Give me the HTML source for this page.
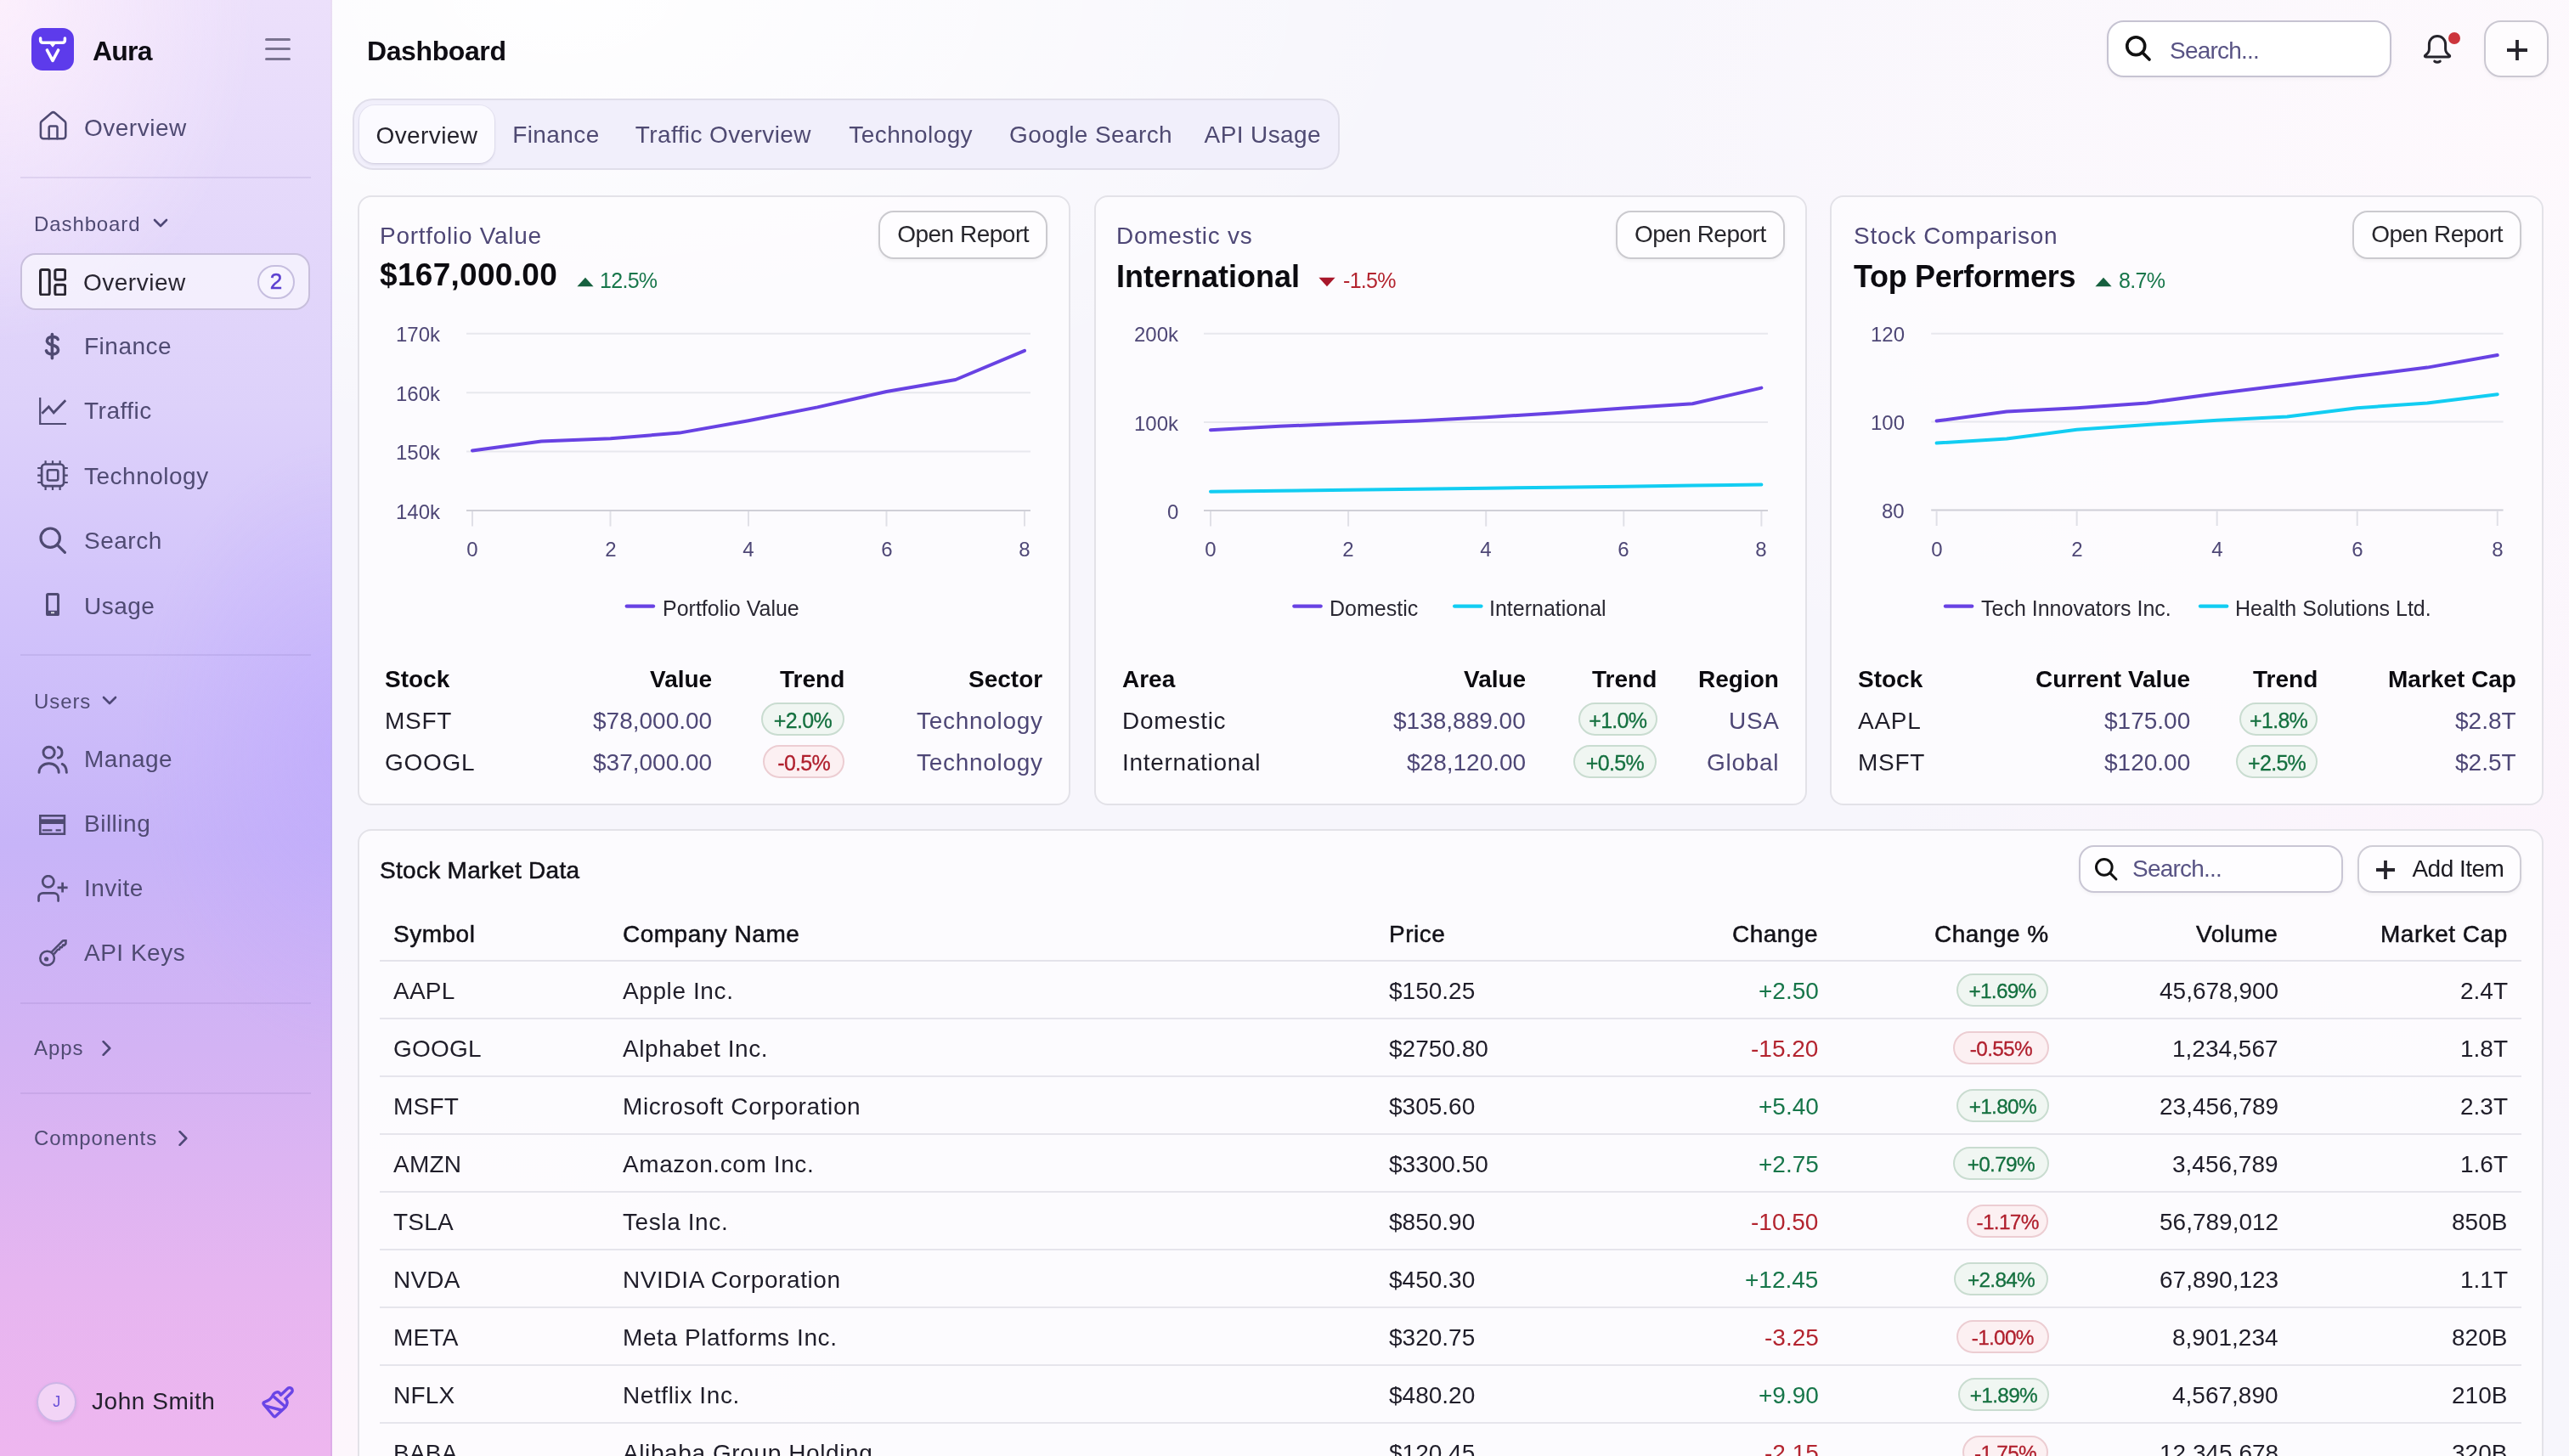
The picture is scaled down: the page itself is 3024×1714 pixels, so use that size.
<!DOCTYPE html>
<html><head><meta charset="utf-8">
<style>
*{box-sizing:border-box;margin:0;padding:0}
html,body{width:1512px;height:857px;overflow:hidden}
body>*{will-change:transform}
@media (min-width:2200px){html{zoom:2}}
body{font-family:"Liberation Sans",sans-serif;color:#1c1b22;position:relative;
 background:
 radial-gradient(ellipse 520px 260px at 330px 0px, rgba(255,255,255,0.95), rgba(255,255,255,0) 100%),
 radial-gradient(ellipse 620px 420px at 1480px 80px, rgba(254,249,253,0.97), rgba(254,249,253,0) 100%),
 radial-gradient(ellipse 380px 320px at 1470px 470px, rgba(253,244,252,0.85), rgba(253,244,252,0) 100%),
 radial-gradient(ellipse 420px 320px at 230px 857px, rgba(254,246,252,0.9), rgba(254,246,252,0) 100%),
 #f7f6fc;}
.abs{position:absolute}
/* sidebar */
#sb{position:absolute;left:0;top:0;width:195.5px;height:857px;border-right:1px solid rgba(130,110,190,0.14);
 background:
  radial-gradient(ellipse 150px 200px at 0px 0px, rgba(255,242,253,0.85), rgba(255,242,253,0) 100%),
  radial-gradient(ellipse 120px 180px at 200px 440px, rgba(185,162,255,0.45), rgba(185,162,255,0) 100%),
  linear-gradient(180deg,#ece0fb 0%,#ddd1fa 28%,#cfc0fa 45%,#c7b4f8 58%,#d3b3f4 72%,#e6b5f0 88%,#eeb6ef 100%);}
.logo{left:18.45px;top:16.45px;width:25px;height:25px;border-radius:6.5px;background:#5d3beb}
.brand{left:54.5px;top:20.2px;font-size:16px;font-weight:bold;color:#0f0d14;line-height:20px;letter-spacing:-0.4px}
.ham{left:156px;top:22px;width:15px;height:14px}
.ham i{position:absolute;left:0;width:15px;height:1.5px;border-radius:1px;background:#7a7390}
.nav{position:absolute;left:12.5px;width:169.5px;height:32px;display:flex;align-items:center;font-size:14px;color:#4f4a72}
.nav .ic{position:absolute;left:10px;top:7px;width:18px;height:18px}
.nav .tx{position:absolute;left:37px;top:0;line-height:32px;letter-spacing:0.25px}
.nav.active{left:12px;width:170.5px;height:33.7px;background:rgba(250,248,254,0.72);border:1px solid #c8bfdc;border-radius:9px;color:#292631}
.nav.active .tx{left:36px;line-height:33.2px}
.badge2{position:absolute;left:138.3px;top:6px;width:22.4px;height:19.8px;border-radius:10px;border:1px solid #c6bedf;background:rgba(255,255,255,0.35);-webkit-text-stroke:0.25px #5b3fd0;
 color:#5b3fd0;font-size:13px;line-height:17.8px;text-align:center}
.divider{position:absolute;left:12px;width:171px;height:1px;background:rgba(110,90,160,0.13)}
.sect{position:absolute;left:20px;font-size:12px;color:#4f4a72;line-height:16px;letter-spacing:0.45px}
.sect svg{position:absolute;top:5.5px}
/* main */
.title{left:216px;top:20.2px;font-size:16px;font-weight:bold;line-height:20px;color:#0f0d14;letter-spacing:-0.2px}
.search{left:1240px;top:12px;width:167.5px;height:33.5px;border:1px solid #c6c3d2;border-radius:10px;background:#fff;box-shadow:0 1px 2px rgba(0,0,0,0.04)}
.search .ph{position:absolute;left:36px;top:1.2px;line-height:31.5px;font-size:14px;color:#585384;letter-spacing:-0.4px}
.plusbtn{left:1462px;top:12px;width:38px;height:33.5px;border:1px solid #cbc8d2;border-radius:10px;background:#fefcfe;box-shadow:0 1px 2px rgba(0,0,0,0.04)}
.tabs{left:207.6px;top:58px;width:581px;height:42px;border:1px solid #e0deea;border-radius:12px;background:#f1effb}
.tab{position:absolute;top:3px;height:34.5px;line-height:34.5px;font-size:14px;color:#4f4a72;text-align:center;letter-spacing:0.2px}
.tab.on{background:#fbfaff;border-radius:9px;color:#25232d;height:33.8px;line-height:35.6px;box-shadow:0 1px 1.5px rgba(40,30,80,0.10),0 0 0 0.5px rgba(40,30,80,0.05)}
.card{position:absolute;top:115px;height:359px;border:1px solid #e3e2e8;border-radius:8px;background:rgba(253,252,254,0.85)}

.avatar{left:21.5px;top:813.5px;width:23.7px;height:23.7px;border-radius:50%;border:1px solid #cdb5e6;background:rgba(248,236,252,0.55);color:#6a4fd8;font-size:9px;line-height:21.7px;text-align:center;box-shadow:0 1px 2px rgba(80,40,120,0.12)}
.uname{left:54px;top:817px;font-size:14px;line-height:16px;color:#24212e;letter-spacing:0.27px}

.t{position:absolute;white-space:nowrap}
.obtn{position:absolute;height:28.3px;border:1px solid #cbcacf;border-radius:9px;background:#fefdff;font-size:14px;line-height:26.3px;text-align:center;color:#27262c;box-shadow:0 1px 2px rgba(0,0,0,0.05);letter-spacing:-0.25px}
.bdg{position:absolute;border-radius:10px;text-align:center;white-space:nowrap;letter-spacing:-0.35px;-webkit-text-stroke:0.15px currentColor}
.bg{background:#f0f6f2;border:1px solid #c9dcd0;color:#14703f}
.br{background:#fcf0f2;border:1px solid #eccdd2;color:#b01f2d}

.sbox{left:1223.3px;top:497.3px;width:155.3px;height:28.2px;border:1px solid #c9c6d4;border-radius:9px;background:#fefdff;box-shadow:0 1px 2px rgba(0,0,0,0.04)}
.ph2{position:absolute;left:30.5px;top:0;line-height:26.2px;font-size:14px;color:#585384;letter-spacing:-0.4px}
.addbtn{left:1387.3px;top:497.3px;width:96.7px;height:28.2px;border:1px solid #cfcdd6;border-radius:9px;background:#fefdff;box-shadow:0 1px 2px rgba(0,0,0,0.05)}
</style></head>
<body>
<div id="sb">
<div class="abs logo"><svg style="position:absolute;left:0;top:0;width:25px;height:25px" viewBox="0 0 25 25"><path d="M5.3 6.0V7.1Q5.3 8.6 6.8 8.6H18.2Q19.7 8.6 19.7 7.1V6.0" stroke="#fff" stroke-width="1.75" fill="none" stroke-linecap="round" stroke-linejoin="round"/><path d="M10.9 8.8L12.5 10.8L14.1 8.8Z" fill="#fff" stroke="#fff" stroke-width="0.8" stroke-linejoin="round"/><path d="M9.2 13.0L12.5 19.2L15.8 13.0" stroke="#fff" stroke-width="1.8" fill="none" stroke-linejoin="round" stroke-linecap="round"/></svg></div>
<div class="abs brand">Aura</div>
<div class="abs ham"><i style="top:0.4px"></i><i style="top:6.2px"></i><i style="top:12px"></i></div>
<div class="nav" style="top:59.5px"><svg style="position:absolute;left:8.80px;top:5.10px;width:19.6px;height:19.6px" viewBox="0 0 24 24" fill="none" stroke="currentColor" stroke-width="1.55" stroke-linecap="round" stroke-linejoin="round" ><path d="M15 21v-8a1 1 0 0 0-1-1h-4a1 1 0 0 0-1 1v8"/><path d="M3 10a2 2 0 0 1 .709-1.528l7-5.999a2 2 0 0 1 2.582 0l7 5.999A2 2 0 0 1 21 10v9a2 2 0 0 1-2 2H5a2 2 0 0 1-2-2z"/></svg><span class="tx">Overview</span></div>
<div class="divider" style="top:104.2px"></div>
<div class="sect" style="top:124px">Dashboard<svg style="left:70px;top:4.7px;width:9px;height:6px" viewBox="0 0 9 6" fill="none" stroke="#4e4776" stroke-width="1.3" stroke-linecap="round" stroke-linejoin="round"><path d="M1 1l3.5 3.5L8 1"/></svg></div>
<div class="nav active" style="top:149px"><svg style="position:absolute;left:9.8px;top:7.8px;width:16.2px;height:16.2px" viewBox="0 0 16 16" fill="none" stroke="currentColor" stroke-width="1.5" stroke-linecap="round" stroke-linejoin="round" ><rect x="0.75" y="0.75" width="5.3" height="14.6" rx="1"/><rect x="9.3" y="0.75" width="5.9" height="5.8" rx="1"/><rect x="9.3" y="9.55" width="5.9" height="5.8" rx="1"/></svg><span class="tx">Overview</span><span class="badge2">2</span></div>
<div class="nav" style="top:188px"><svg style="position:absolute;left:13.6px;top:7.6px;width:9.4px;height:16.6px" viewBox="0 0 10 17" fill="none" stroke="currentColor" stroke-width="1.9" stroke-linecap="round"><path d="M5 1v15"/><path d="M8.6 4.2C8.2 3.1 7 2.6 5.2 2.6 3.2 2.6 1.8 3.5 1.8 5.1c0 1.7 1.5 2.2 3.4 2.7 2 .5 3.6 1.1 3.6 3 0 1.7-1.5 2.7-3.7 2.7-2 0-3.4-.8-3.8-2.2"/></svg><span class="tx">Finance</span></div>
<div class="nav" style="top:226.2px"><svg style="position:absolute;left:10.7px;top:7.8px;width:16.5px;height:16.3px" viewBox="0 0 16.5 16.3" fill="none" stroke="currentColor" stroke-linecap="butt" stroke-linejoin="miter"><path d="M0.6 0V15.5H16" stroke-width="1.1"/><path d="M1.7 9.4L5.7 5.4L8.6 8.9L15.6 1.6" stroke-width="1.4"/></svg><span class="tx">Traffic</span></div>
<div class="nav" style="top:264.4px"><svg style="position:absolute;left:9.4px;top:6.6px;width:18px;height:18px" viewBox="0 0 18 18" fill="none" stroke="currentColor" stroke-linecap="butt" stroke-linejoin="round"><rect x="2.55" y="2.25" width="13" height="12.8" rx="2" stroke-width="1.35"/><rect x="5.95" y="5.65" width="6.2" height="6.1" rx="1" stroke-width="1.3"/><path d="M4.8 0.1v2.1M9 0.1v2.1M13.3 0.1v2.1M4.8 15.1v2.4M9 15.1v2.4M13.3 15.1v2.4M0.1 4.5h2.4M0.1 8.8h2.4M0.1 13h2.4M15.5 4.5h2.4M15.5 8.8h2.4M15.5 13h2.4" stroke-width="1.1"/></svg><span class="tx">Technology</span></div>
<div class="nav" style="top:302.6px"><svg style="position:absolute;left:10.70px;top:7.40px;width:16px;height:16px" viewBox="0 0 16 16" fill="none" stroke="currentColor" stroke-width="1.6" stroke-linecap="round" stroke-linejoin="round" ><circle cx="6.6" cy="6.6" r="5.6"/><path d="M10.7 10.7L15.2 15.2"/></svg><span class="tx">Search</span></div>
<div class="nav" style="top:340.8px"><svg style="position:absolute;left:14.50px;top:8.20px;width:8px;height:13.6px" viewBox="0 0 8 13.6" fill="none" stroke="currentColor" stroke-width="1.5" stroke-linecap="round" stroke-linejoin="round" ><rect x="0.75" y="0.75" width="6.5" height="12.2" rx="0.6" fill="none"/><rect x="0.75" y="10.4" width="6.5" height="2.5" fill="currentColor" stroke="none"/><rect x="3" y="11.2" width="2" height="0.9" fill="#fff" stroke="none" opacity="0.85"/></svg><span class="tx">Usage</span></div>
<div class="divider" style="top:385px"></div>
<div class="sect" style="top:405px">Users<svg style="left:40px;top:4.4px;width:9px;height:6px" viewBox="0 0 9 6" fill="none" stroke="#4e4776" stroke-width="1.3" stroke-linecap="round" stroke-linejoin="round"><path d="M1 1l3.5 3.5L8 1"/></svg></div>
<div class="nav" style="top:431px"><svg style="position:absolute;left:9.50px;top:7.70px;width:18.2px;height:17.2px" viewBox="0 0 18.2 17.2" fill="none" stroke="currentColor" stroke-width="1.45" stroke-linecap="round" stroke-linejoin="round" ><circle cx="6.8" cy="4.4" r="3.3"/><path d="M1 16.2c0-3.2 2.6-5.3 5.8-5.3s5.8 2.1 5.8 5.3"/><path d="M12.2 1.3a3.3 3.3 0 0 1 0 6.3"/><path d="M14.6 11.2c1.6.8 2.6 2.6 2.6 5"/></svg><span class="tx">Manage</span></div>
<div class="nav" style="top:469.2px"><svg style="position:absolute;left:10.7px;top:10.2px;width:16.5px;height:12px" viewBox="0 0 16.5 12" fill="none" stroke="currentColor" stroke-width="1.3" stroke-linecap="butt" stroke-linejoin="miter"><rect x="0.65" y="0.65" width="14.3" height="10.7"/><rect x="0.65" y="2.65" width="14.3" height="2.85" fill="currentColor" stroke="none"/><path d="M1.9 9.2h5.8M9.8 9.2h3.1" stroke-width="1.1"/></svg><span class="tx">Billing</span></div>
<div class="nav" style="top:507px"><svg style="position:absolute;left:9.5px;top:7.8px;width:18.4px;height:16.6px" viewBox="0 0 18.4 16.6" fill="none" stroke="currentColor" stroke-width="1.35" stroke-linecap="round" stroke-linejoin="round"><circle cx="6.4" cy="3.9" r="3.3"/><path d="M0.75 15.3V13.2C0.75 11.8 1.9 10.7 3.3 10.7H9.7C11.1 10.7 12.3 11.8 12.3 13.2V15.3"/><path d="M11.8 7.4H17.8M14.8 4.4V10.3" stroke-linecap="butt"/></svg><span class="tx">Invite</span></div>
<div class="nav" style="top:545.1px"><svg style="position:absolute;left:10.7px;top:7.9px;width:16.5px;height:16.5px" viewBox="0 0 16.5 16.5" fill="none" stroke="currentColor" stroke-width="1.25" stroke-linecap="round" stroke-linejoin="round"><circle cx="4.8" cy="11" r="4.15"/><circle cx="4.3" cy="11.5" r="1.3" fill="currentColor" stroke="none"/><path d="M7.4 7.3L14 0.7L15.8 0.5L15.7 2.5L14.7 3.5L14.1 3.2L13.4 4.6L12.4 4.5L11.9 5.9L11 5.9L9.1 8.2"/></svg><span class="tx">API Keys</span></div>
<div class="divider" style="top:589.8px"></div>
<div class="sect" style="top:609.2px">Apps<svg style="left:39.8px;top:3.2px;width:6px;height:9px" viewBox="0 0 6 9" fill="none" stroke="#4e4776" stroke-width="1.3" stroke-linecap="round" stroke-linejoin="round"><path d="M0.8 0.6L4.6 4.5L0.8 8.4"/></svg></div>
<div class="divider" style="top:642.8px"></div>
<div class="sect" style="top:662.2px">Components<svg style="left:84.8px;top:3.2px;width:6px;height:9px" viewBox="0 0 6 9" fill="none" stroke="#4e4776" stroke-width="1.3" stroke-linecap="round" stroke-linejoin="round"><path d="M0.8 0.6L4.6 4.5L0.8 8.4"/></svg></div>
<div class="abs avatar">J</div>
<div class="abs uname">John Smith</div>
<svg class="abs" style="left:154px;top:816px;width:20px;height:20px" viewBox="0 0 20 20" fill="none" stroke="#6a45e6" stroke-width="1.7" stroke-linecap="round" stroke-linejoin="round"><path d="M8.8 3.4C9.9 3.1 10.7 3.8 11.2 5.1L15.2 1.4A1.6 1.6 0 0 1 17.7 3.5L13.9 7.3C15.5 8.6 15.5 10.6 13.6 12.6L8.3 17.5Q7.6 18.2 7 17.5L1.2 10.6Q0.6 9.6 1.8 9.2C4 8.4 5.6 7.2 6.4 5.6C6.9 4.5 7.8 3.6 8.8 3.4Z"/><path d="M7.4 6.3L14.1 12.1M2.3 11.6L11.6 14"/></svg>
</div>
<div class="abs title">Dashboard</div>
<div class="abs search"><svg style="position:absolute;left:9.4px;top:7.6px;width:16px;height:16px" viewBox="0 0 15 15" fill="none" stroke="#111" stroke-width="1.7" stroke-linecap="round"><circle cx="6.2" cy="6.2" r="4.9"/><path d="M9.9 9.9L13.6 13.6"/></svg><span class="ph">Search...</span></div>
<svg class="abs" style="left:1426.2px;top:19.6px;width:17px;height:18.5px" viewBox="0 0 17 18.5" fill="none" stroke="#26242c" stroke-width="1.5" stroke-linecap="round" stroke-linejoin="round"><path d="M3.7 6.5A4.8 4.8 0 0 1 13.3 6.5V9.4C13.3 10.9 14.2 12.1 15.5 13C16.1 13.4 15.9 14 15.2 14H1.8C1.1 14 .9 13.4 1.5 13C2.8 12.1 3.7 10.9 3.7 9.4Z"/><path d="M6.9 16.6Q8.5 17.7 10.1 16.6"/></svg>
<div class="abs" style="left:1441px;top:19px;width:7px;height:7px;border-radius:50%;background:#cc343c"></div>
<div class="abs plusbtn"><svg style="position:absolute;left:11.8px;top:10px;width:13px;height:13px" viewBox="0 0 13 13" stroke="#26242c" stroke-width="1.9"><path d="M6.5 0.5v12M0.5 6.5h12"/></svg></div>
<div class="abs tabs"><div class="tab on" style="left:3.1px;width:79.3px">Overview</div><div class="tab" style="left:83.0px;width:71.4px">Finance</div><div class="tab" style="left:155.4px;width:123.6px">Traffic Overview</div><div class="tab" style="left:280.0px;width:95.2px">Technology</div><div class="tab" style="left:376.2px;width:114.7px">Google Search</div><div class="tab" style="left:491.9px;width:85.5px">API Usage</div></div>






<!--CARDS-->
<div class="card" style="left:210.5px;width:419.5px"></div>
<div class="card" style="left:644px;width:419.5px"></div>
<div class="card" style="left:1077px;width:420px"></div>
<div class="t" style="left:223.40px;top:130.00px;font-size:14px;line-height:17.5px;color:#4e4776;font-weight:normal;letter-spacing:0.36px">Portfolio Value</div>
<div class="t" style="left:223.40px;top:150.60px;font-size:18.5px;line-height:23.12px;color:#0c0b10;font-weight:bold;letter-spacing:0.15px">$167,000.00</div>
<div class="t" style="left:353.10px;top:157.60px;font-size:12.5px;line-height:15.62px;color:#17764a;font-weight:normal;letter-spacing:-0.35px">12.5%</div>
<div class="obtn" style="left:517.2px;top:124.2px;width:99.6px">Open Report</div>
<div class="t" style="left:657.20px;top:130.00px;font-size:14px;line-height:17.5px;color:#4e4776;font-weight:normal;letter-spacing:0.36px">Domestic vs</div>
<div class="t" style="left:657.20px;top:151.60px;font-size:18px;line-height:22.5px;color:#0c0b10;font-weight:bold;letter-spacing:0px">International</div>
<div class="t" style="left:790.70px;top:157.60px;font-size:12.5px;line-height:15.62px;color:#b3242f;font-weight:normal;letter-spacing:-0.35px">-1.5%</div>
<div class="obtn" style="left:950.8px;top:124.2px;width:99.3px">Open Report</div>
<div class="t" style="left:1090.80px;top:130.00px;font-size:14px;line-height:17.5px;color:#4e4776;font-weight:normal;letter-spacing:0.36px">Stock Comparison</div>
<div class="t" style="left:1090.80px;top:151.60px;font-size:18px;line-height:22.5px;color:#0c0b10;font-weight:bold;letter-spacing:-0.15px">Top Performers</div>
<div class="t" style="left:1247.00px;top:157.60px;font-size:12.5px;line-height:15.62px;color:#17764a;font-weight:normal;letter-spacing:-0.35px">8.7%</div>
<div class="obtn" style="left:1384.4px;top:124.2px;width:99.6px">Open Report</div>
<div class="t" style="right:1253.10px;top:189.70px;font-size:12px;line-height:15.0px;color:#4e4776;font-weight:normal;text-align:right;">170k</div>
<div class="t" style="right:1253.10px;top:224.40px;font-size:12px;line-height:15.0px;color:#4e4776;font-weight:normal;text-align:right;">160k</div>
<div class="t" style="right:1253.10px;top:259.10px;font-size:12px;line-height:15.0px;color:#4e4776;font-weight:normal;text-align:right;">150k</div>
<div class="t" style="right:1253.10px;top:293.80px;font-size:12px;line-height:15.0px;color:#4e4776;font-weight:normal;text-align:right;">140k</div>
<div class="t" style="left:228.00px;width:100px;top:315.80px;font-size:12px;line-height:15.0px;color:#4e4776;font-weight:normal;text-align:center;">0</div>
<div class="t" style="left:309.25px;width:100px;top:315.80px;font-size:12px;line-height:15.0px;color:#4e4776;font-weight:normal;text-align:center;">2</div>
<div class="t" style="left:390.50px;width:100px;top:315.80px;font-size:12px;line-height:15.0px;color:#4e4776;font-weight:normal;text-align:center;">4</div>
<div class="t" style="left:471.75px;width:100px;top:315.80px;font-size:12px;line-height:15.0px;color:#4e4776;font-weight:normal;text-align:center;">6</div>
<div class="t" style="left:553.00px;width:100px;top:315.80px;font-size:12px;line-height:15.0px;color:#4e4776;font-weight:normal;text-align:center;">8</div>
<div class="t" style="right:818.40px;top:189.70px;font-size:12px;line-height:15.0px;color:#4e4776;font-weight:normal;text-align:right;">200k</div>
<div class="t" style="right:818.40px;top:241.75px;font-size:12px;line-height:15.0px;color:#4e4776;font-weight:normal;text-align:right;">100k</div>
<div class="t" style="right:818.40px;top:293.80px;font-size:12px;line-height:15.0px;color:#4e4776;font-weight:normal;text-align:right;">0</div>
<div class="t" style="left:662.50px;width:100px;top:315.80px;font-size:12px;line-height:15.0px;color:#4e4776;font-weight:normal;text-align:center;">0</div>
<div class="t" style="left:743.55px;width:100px;top:315.80px;font-size:12px;line-height:15.0px;color:#4e4776;font-weight:normal;text-align:center;">2</div>
<div class="t" style="left:824.60px;width:100px;top:315.80px;font-size:12px;line-height:15.0px;color:#4e4776;font-weight:normal;text-align:center;">4</div>
<div class="t" style="left:905.65px;width:100px;top:315.80px;font-size:12px;line-height:15.0px;color:#4e4776;font-weight:normal;text-align:center;">6</div>
<div class="t" style="left:986.70px;width:100px;top:315.80px;font-size:12px;line-height:15.0px;color:#4e4776;font-weight:normal;text-align:center;">8</div>
<div class="t" style="right:391.10px;top:189.70px;font-size:12px;line-height:15.0px;color:#4e4776;font-weight:normal;text-align:right;">120</div>
<div class="t" style="right:391.10px;top:241.60px;font-size:12px;line-height:15.0px;color:#4e4776;font-weight:normal;text-align:right;">100</div>
<div class="t" style="right:391.10px;top:293.50px;font-size:12px;line-height:15.0px;color:#4e4776;font-weight:normal;text-align:right;">80</div>
<div class="t" style="left:1089.80px;width:100px;top:315.80px;font-size:12px;line-height:15.0px;color:#4e4776;font-weight:normal;text-align:center;">0</div>
<div class="t" style="left:1172.32px;width:100px;top:315.80px;font-size:12px;line-height:15.0px;color:#4e4776;font-weight:normal;text-align:center;">2</div>
<div class="t" style="left:1254.84px;width:100px;top:315.80px;font-size:12px;line-height:15.0px;color:#4e4776;font-weight:normal;text-align:center;">4</div>
<div class="t" style="left:1337.36px;width:100px;top:315.80px;font-size:12px;line-height:15.0px;color:#4e4776;font-weight:normal;text-align:center;">6</div>
<div class="t" style="left:1419.88px;width:100px;top:315.80px;font-size:12px;line-height:15.0px;color:#4e4776;font-weight:normal;text-align:center;">8</div>
<div class="t" style="left:390.00px;top:350.30px;font-size:12.5px;line-height:15.62px;color:#2a2833;font-weight:normal;">Portfolio Value</div>
<div class="t" style="left:782.30px;top:350.30px;font-size:12.5px;line-height:15.62px;color:#2a2833;font-weight:normal;">Domestic</div>
<div class="t" style="left:876.50px;top:350.30px;font-size:12.5px;line-height:15.62px;color:#2a2833;font-weight:normal;">International</div>
<div class="t" style="left:1166.00px;top:350.30px;font-size:12.5px;line-height:15.62px;color:#2a2833;font-weight:normal;">Tech Innovators Inc.</div>
<div class="t" style="left:1315.60px;top:350.30px;font-size:12.5px;line-height:15.62px;color:#2a2833;font-weight:normal;">Health Solutions Ltd.</div>
<div class="t" style="left:226.40px;top:391.10px;font-size:14px;line-height:17.5px;color:#0c0b10;font-weight:bold;">Stock</div>
<div class="t" style="right:1092.70px;top:391.10px;font-size:14px;line-height:17.5px;color:#0c0b10;font-weight:bold;text-align:right;">Value</div>
<div class="t" style="right:1014.90px;top:391.10px;font-size:14px;line-height:17.5px;color:#0c0b10;font-weight:bold;text-align:right;">Trend</div>
<div class="t" style="right:898.20px;top:391.10px;font-size:14px;line-height:17.5px;color:#0c0b10;font-weight:bold;text-align:right;">Sector</div>
<div class="t" style="left:226.40px;top:415.40px;font-size:14px;line-height:17.5px;color:#1f1d29;font-weight:normal;letter-spacing:0.35px">MSFT</div>
<div class="t" style="right:1092.70px;top:415.40px;font-size:14px;line-height:17.5px;color:#4e4776;font-weight:normal;text-align:right;">$78,000.00</div>
<div class="bdg bg" style="left:448.20px;top:413.65px;width:48.90px;height:19.5px;line-height:19.1px;font-size:12.5px">+2.0%</div>
<div class="t" style="right:898.20px;top:415.40px;font-size:14px;line-height:17.5px;color:#4e4776;font-weight:normal;text-align:right;letter-spacing:0.35px">Technology</div>
<div class="t" style="left:226.40px;top:440.00px;font-size:14px;line-height:17.5px;color:#1f1d29;font-weight:normal;letter-spacing:0.35px">GOOGL</div>
<div class="t" style="right:1092.70px;top:440.00px;font-size:14px;line-height:17.5px;color:#4e4776;font-weight:normal;text-align:right;">$37,000.00</div>
<div class="bdg br" style="left:448.90px;top:438.25px;width:48.20px;height:19.5px;line-height:19.1px;font-size:12.5px">-0.5%</div>
<div class="t" style="right:898.20px;top:440.00px;font-size:14px;line-height:17.5px;color:#4e4776;font-weight:normal;text-align:right;letter-spacing:0.35px">Technology</div>
<div class="t" style="left:660.40px;top:391.10px;font-size:14px;line-height:17.5px;color:#0c0b10;font-weight:bold;">Area</div>
<div class="t" style="right:613.90px;top:391.10px;font-size:14px;line-height:17.5px;color:#0c0b10;font-weight:bold;text-align:right;">Value</div>
<div class="t" style="right:536.90px;top:391.10px;font-size:14px;line-height:17.5px;color:#0c0b10;font-weight:bold;text-align:right;">Trend</div>
<div class="t" style="right:464.90px;top:391.10px;font-size:14px;line-height:17.5px;color:#0c0b10;font-weight:bold;text-align:right;">Region</div>
<div class="t" style="left:660.40px;top:415.40px;font-size:14px;line-height:17.5px;color:#1f1d29;font-weight:normal;letter-spacing:0.35px">Domestic</div>
<div class="t" style="right:613.90px;top:415.40px;font-size:14px;line-height:17.5px;color:#4e4776;font-weight:normal;text-align:right;">$138,889.00</div>
<div class="bdg bg" style="left:928.80px;top:413.65px;width:46.30px;height:19.5px;line-height:19.1px;font-size:12.5px">+1.0%</div>
<div class="t" style="right:464.90px;top:415.40px;font-size:14px;line-height:17.5px;color:#4e4776;font-weight:normal;text-align:right;letter-spacing:0.35px">USA</div>
<div class="t" style="left:660.40px;top:440.00px;font-size:14px;line-height:17.5px;color:#1f1d29;font-weight:normal;letter-spacing:0.35px">International</div>
<div class="t" style="right:613.90px;top:440.00px;font-size:14px;line-height:17.5px;color:#4e4776;font-weight:normal;text-align:right;">$28,120.00</div>
<div class="bdg bg" style="left:926.20px;top:438.25px;width:48.90px;height:19.5px;line-height:19.1px;font-size:12.5px">+0.5%</div>
<div class="t" style="right:464.90px;top:440.00px;font-size:14px;line-height:17.5px;color:#4e4776;font-weight:normal;text-align:right;letter-spacing:0.35px">Global</div>
<div class="t" style="left:1093.70px;top:391.10px;font-size:14px;line-height:17.5px;color:#0c0b10;font-weight:bold;">Stock</div>
<div class="t" style="right:223.10px;top:391.10px;font-size:14px;line-height:17.5px;color:#0c0b10;font-weight:bold;text-align:right;">Current Value</div>
<div class="t" style="right:147.90px;top:391.10px;font-size:14px;line-height:17.5px;color:#0c0b10;font-weight:bold;text-align:right;">Trend</div>
<div class="t" style="right:31.00px;top:391.10px;font-size:14px;line-height:17.5px;color:#0c0b10;font-weight:bold;text-align:right;">Market Cap</div>
<div class="t" style="left:1093.70px;top:415.40px;font-size:14px;line-height:17.5px;color:#1f1d29;font-weight:normal;letter-spacing:0.35px">AAPL</div>
<div class="t" style="right:223.10px;top:415.40px;font-size:14px;line-height:17.5px;color:#4e4776;font-weight:normal;text-align:right;">$175.00</div>
<div class="bdg bg" style="left:1318.00px;top:413.65px;width:46.10px;height:19.5px;line-height:19.1px;font-size:12.5px">+1.8%</div>
<div class="t" style="right:31.00px;top:415.40px;font-size:14px;line-height:17.5px;color:#4e4776;font-weight:normal;text-align:right;">$2.8T</div>
<div class="t" style="left:1093.70px;top:440.00px;font-size:14px;line-height:17.5px;color:#1f1d29;font-weight:normal;letter-spacing:0.35px">MSFT</div>
<div class="t" style="right:223.10px;top:440.00px;font-size:14px;line-height:17.5px;color:#4e4776;font-weight:normal;text-align:right;">$120.00</div>
<div class="bdg bg" style="left:1316.00px;top:438.25px;width:48.10px;height:19.5px;line-height:19.1px;font-size:12.5px">+2.5%</div>
<div class="t" style="right:31.00px;top:440.00px;font-size:14px;line-height:17.5px;color:#4e4776;font-weight:normal;text-align:right;">$2.5T</div>
<svg class="abs" style="left:0;top:0;width:1512px;height:857px;pointer-events:none" viewBox="0 0 1512 857"><path d="M339.7 168.6 L349.3 168.6 L344.5 163.4 Z" fill="#16603f"/><path d="M776.2 163.4 L785.8 163.4 L781.0 168.6 Z" fill="#a8172a"/><path d="M1233.2 168.6 L1242.8 168.6 L1238.0 163.4 Z" fill="#16603f"/><path d="M274.5 196.40H606.5" stroke="#e8e8ee" stroke-width="1"/><path d="M274.5 231.10H606.5" stroke="#e8e8ee" stroke-width="1"/><path d="M274.5 265.80H606.5" stroke="#e8e8ee" stroke-width="1"/><path d="M274.5 300.50H606.5" stroke="#cfcfd7" stroke-width="1"/><path d="M278.00 301.00V309.80" stroke="#e0e0e7" stroke-width="1"/><path d="M359.25 301.00V309.80" stroke="#e0e0e7" stroke-width="1"/><path d="M440.50 301.00V309.80" stroke="#e0e0e7" stroke-width="1"/><path d="M521.75 301.00V309.80" stroke="#e0e0e7" stroke-width="1"/><path d="M603.00 301.00V309.80" stroke="#e0e0e7" stroke-width="1"/><path d="M278.00 265.30 L318.62 259.80 L359.25 258.10 L399.88 254.80 L440.50 247.60 L481.12 239.70 L521.75 230.50 L562.38 223.50 L603.00 206.40" stroke="#6842e3" stroke-width="2" fill="none" stroke-linecap="round" stroke-linejoin="round"/><path d="M708.5 196.40H1040.5" stroke="#e8e8ee" stroke-width="1"/><path d="M708.5 248.45H1040.5" stroke="#e8e8ee" stroke-width="1"/><path d="M708.5 300.50H1040.5" stroke="#cfcfd7" stroke-width="1"/><path d="M712.50 301.00V309.80" stroke="#e0e0e7" stroke-width="1"/><path d="M793.55 301.00V309.80" stroke="#e0e0e7" stroke-width="1"/><path d="M874.60 301.00V309.80" stroke="#e0e0e7" stroke-width="1"/><path d="M955.65 301.00V309.80" stroke="#e0e0e7" stroke-width="1"/><path d="M1036.70 301.00V309.80" stroke="#e0e0e7" stroke-width="1"/><path d="M712.50 253.10 L753.02 250.90 L793.55 249.30 L834.08 247.80 L874.60 245.60 L915.12 243.10 L955.65 240.20 L996.17 237.60 L1036.70 228.30" stroke="#6842e3" stroke-width="2" fill="none" stroke-linecap="round" stroke-linejoin="round"/><path d="M712.50 289.40 L753.02 288.89 L793.55 288.38 L834.08 287.86 L874.60 287.35 L915.12 286.84 L955.65 286.32 L996.17 285.81 L1036.70 285.30" stroke="#12cdf2" stroke-width="2" fill="none" stroke-linecap="round" stroke-linejoin="round"/><path d="M1136.6 196.40H1473.3" stroke="#e8e8ee" stroke-width="1"/><path d="M1136.6 248.30H1473.3" stroke="#e8e8ee" stroke-width="1"/><path d="M1136.6 300.20H1473.3" stroke="#cfcfd7" stroke-width="1"/><path d="M1139.80 300.70V309.50" stroke="#e0e0e7" stroke-width="1"/><path d="M1222.32 300.70V309.50" stroke="#e0e0e7" stroke-width="1"/><path d="M1304.84 300.70V309.50" stroke="#e0e0e7" stroke-width="1"/><path d="M1387.36 300.70V309.50" stroke="#e0e0e7" stroke-width="1"/><path d="M1469.88 300.70V309.50" stroke="#e0e0e7" stroke-width="1"/><path d="M1139.80 247.80 L1181.06 242.30 L1222.32 240.10 L1263.58 237.20 L1304.84 231.60 L1346.10 226.50 L1387.36 221.40 L1428.62 216.30 L1469.88 209.00" stroke="#6842e3" stroke-width="2" fill="none" stroke-linecap="round" stroke-linejoin="round"/><path d="M1139.80 260.80 L1181.06 258.30 L1222.32 252.90 L1263.58 250.00 L1304.84 247.40 L1346.10 245.20 L1387.36 240.10 L1428.62 237.20 L1469.88 232.10" stroke="#12cdf2" stroke-width="2" fill="none" stroke-linecap="round" stroke-linejoin="round"/><path d="M368.9 356.8H384.5" stroke="#6842e3" stroke-width="2.2" stroke-linecap="round"/><path d="M761.7 356.8H777.3" stroke="#6842e3" stroke-width="2.2" stroke-linecap="round"/><path d="M856.1 356.8H871.7" stroke="#12cdf2" stroke-width="2.2" stroke-linecap="round"/><path d="M1145.0 356.8H1160.6" stroke="#6842e3" stroke-width="2.2" stroke-linecap="round"/><path d="M1295.0 356.8H1310.6" stroke="#12cdf2" stroke-width="2.2" stroke-linecap="round"/></svg>
<!--/CARDS-->
<!--TABLE-->
<div class="card" style="top:488px;height:420px;left:210.5px;width:1286.5px"></div>
<div class="t" style="left:223.50px;top:503.40px;font-size:14px;line-height:17.5px;color:#121118;font-weight:normal;-webkit-text-stroke:0.25px #121118;letter-spacing:0.15px">Stock Market Data</div>
<div class="abs sbox"><svg style="position:absolute;left:8.2px;top:6.2px;width:14.3px;height:14.3px" viewBox="0 0 15 15" fill="none" stroke="#111" stroke-width="1.55" stroke-linecap="round"><circle cx="6.2" cy="6.2" r="4.9"/><path d="M9.9 9.9L13.6 13.6"/></svg><span class="ph2">Search...</span></div>
<div class="abs addbtn"><svg style="position:absolute;left:9.8px;top:8.2px;width:11px;height:11px" viewBox="0 0 11 11" stroke="#26242c" stroke-width="1.9"><path d="M5.5 0v11M0 5.5h11"/></svg><span style="position:absolute;left:31.2px;top:0;line-height:26.2px;font-size:14px;color:#1c1b22;letter-spacing:-0.25px">Add Item</span></div>
<div class="t" style="left:231.50px;top:541.00px;font-size:14px;line-height:17.5px;color:#121118;font-weight:normal;-webkit-text-stroke:0.25px #121118;letter-spacing:0.25px">Symbol</div>
<div class="t" style="left:366.60px;top:541.00px;font-size:14px;line-height:17.5px;color:#121118;font-weight:normal;-webkit-text-stroke:0.25px #121118;letter-spacing:0.25px">Company Name</div>
<div class="t" style="left:817.40px;top:541.00px;font-size:14px;line-height:17.5px;color:#121118;font-weight:normal;-webkit-text-stroke:0.25px #121118;letter-spacing:0.25px">Price</div>
<div class="t" style="right:441.80px;top:541.00px;font-size:14px;line-height:17.5px;color:#121118;font-weight:normal;text-align:right;-webkit-text-stroke:0.25px #121118;letter-spacing:0.25px">Change</div>
<div class="t" style="right:306.30px;top:541.00px;font-size:14px;line-height:17.5px;color:#121118;font-weight:normal;text-align:right;-webkit-text-stroke:0.25px #121118;letter-spacing:0.25px">Change %</div>
<div class="t" style="right:171.10px;top:541.00px;font-size:14px;line-height:17.5px;color:#121118;font-weight:normal;text-align:right;-webkit-text-stroke:0.25px #121118;letter-spacing:0.25px">Volume</div>
<div class="t" style="right:36.20px;top:541.00px;font-size:14px;line-height:17.5px;color:#121118;font-weight:normal;text-align:right;-webkit-text-stroke:0.25px #121118;letter-spacing:0.25px">Market Cap</div>
<div class="abs" style="left:223.5px;top:565px;width:1260.5px;height:1px;background:#e4e3ea"></div>
<div class="t" style="left:231.50px;top:574.40px;font-size:14px;line-height:17.5px;color:#1f1d29;font-weight:normal;letter-spacing:0.1px">AAPL</div>
<div class="t" style="left:366.60px;top:574.40px;font-size:14px;line-height:17.5px;color:#1f1d29;font-weight:normal;letter-spacing:0.3px">Apple Inc.</div>
<div class="t" style="left:817.40px;top:574.40px;font-size:14px;line-height:17.5px;color:#1f1d29;font-weight:normal;">$150.25</div>
<div class="t" style="right:441.80px;top:574.40px;font-size:14px;line-height:17.5px;color:#17764a;font-weight:normal;text-align:right;">+2.50</div>
<div class="bdg bg" style="left:1151.70px;top:572.75px;width:54.0px;height:19.3px;line-height:18.9px;font-size:12.2px">+1.69%</div>
<div class="t" style="right:171.10px;top:574.40px;font-size:14px;line-height:17.5px;color:#1f1d29;font-weight:normal;text-align:right;">45,678,900</div>
<div class="t" style="right:36.20px;top:574.40px;font-size:14px;line-height:17.5px;color:#1f1d29;font-weight:normal;text-align:right;">2.4T</div>
<div class="abs" style="left:223.5px;top:599.0px;width:1260.5px;height:1px;background:#e6e5ec"></div>
<div class="t" style="left:231.50px;top:608.40px;font-size:14px;line-height:17.5px;color:#1f1d29;font-weight:normal;letter-spacing:0.1px">GOOGL</div>
<div class="t" style="left:366.60px;top:608.40px;font-size:14px;line-height:17.5px;color:#1f1d29;font-weight:normal;letter-spacing:0.3px">Alphabet Inc.</div>
<div class="t" style="left:817.40px;top:608.40px;font-size:14px;line-height:17.5px;color:#1f1d29;font-weight:normal;">$2750.80</div>
<div class="t" style="right:441.80px;top:608.40px;font-size:14px;line-height:17.5px;color:#b3242f;font-weight:normal;text-align:right;">-15.20</div>
<div class="bdg br" style="left:1149.30px;top:606.75px;width:56.4px;height:19.3px;line-height:18.9px;font-size:12.2px">-0.55%</div>
<div class="t" style="right:171.10px;top:608.40px;font-size:14px;line-height:17.5px;color:#1f1d29;font-weight:normal;text-align:right;">1,234,567</div>
<div class="t" style="right:36.20px;top:608.40px;font-size:14px;line-height:17.5px;color:#1f1d29;font-weight:normal;text-align:right;">1.8T</div>
<div class="abs" style="left:223.5px;top:633.0px;width:1260.5px;height:1px;background:#e6e5ec"></div>
<div class="t" style="left:231.50px;top:642.40px;font-size:14px;line-height:17.5px;color:#1f1d29;font-weight:normal;letter-spacing:0.1px">MSFT</div>
<div class="t" style="left:366.60px;top:642.40px;font-size:14px;line-height:17.5px;color:#1f1d29;font-weight:normal;letter-spacing:0.3px">Microsoft Corporation</div>
<div class="t" style="left:817.40px;top:642.40px;font-size:14px;line-height:17.5px;color:#1f1d29;font-weight:normal;">$305.60</div>
<div class="t" style="right:441.80px;top:642.40px;font-size:14px;line-height:17.5px;color:#17764a;font-weight:normal;text-align:right;">+5.40</div>
<div class="bdg bg" style="left:1151.40px;top:640.75px;width:54.3px;height:19.3px;line-height:18.9px;font-size:12.2px">+1.80%</div>
<div class="t" style="right:171.10px;top:642.40px;font-size:14px;line-height:17.5px;color:#1f1d29;font-weight:normal;text-align:right;">23,456,789</div>
<div class="t" style="right:36.20px;top:642.40px;font-size:14px;line-height:17.5px;color:#1f1d29;font-weight:normal;text-align:right;">2.3T</div>
<div class="abs" style="left:223.5px;top:667.0px;width:1260.5px;height:1px;background:#e6e5ec"></div>
<div class="t" style="left:231.50px;top:676.40px;font-size:14px;line-height:17.5px;color:#1f1d29;font-weight:normal;letter-spacing:0.1px">AMZN</div>
<div class="t" style="left:366.60px;top:676.40px;font-size:14px;line-height:17.5px;color:#1f1d29;font-weight:normal;letter-spacing:0.3px">Amazon.com Inc.</div>
<div class="t" style="left:817.40px;top:676.40px;font-size:14px;line-height:17.5px;color:#1f1d29;font-weight:normal;">$3300.50</div>
<div class="t" style="right:441.80px;top:676.40px;font-size:14px;line-height:17.5px;color:#17764a;font-weight:normal;text-align:right;">+2.75</div>
<div class="bdg bg" style="left:1149.40px;top:674.75px;width:56.3px;height:19.3px;line-height:18.9px;font-size:12.2px">+0.79%</div>
<div class="t" style="right:171.10px;top:676.40px;font-size:14px;line-height:17.5px;color:#1f1d29;font-weight:normal;text-align:right;">3,456,789</div>
<div class="t" style="right:36.20px;top:676.40px;font-size:14px;line-height:17.5px;color:#1f1d29;font-weight:normal;text-align:right;">1.6T</div>
<div class="abs" style="left:223.5px;top:701.0px;width:1260.5px;height:1px;background:#e6e5ec"></div>
<div class="t" style="left:231.50px;top:710.40px;font-size:14px;line-height:17.5px;color:#1f1d29;font-weight:normal;letter-spacing:0.1px">TSLA</div>
<div class="t" style="left:366.60px;top:710.40px;font-size:14px;line-height:17.5px;color:#1f1d29;font-weight:normal;letter-spacing:0.3px">Tesla Inc.</div>
<div class="t" style="left:817.40px;top:710.40px;font-size:14px;line-height:17.5px;color:#1f1d29;font-weight:normal;">$850.90</div>
<div class="t" style="right:441.80px;top:710.40px;font-size:14px;line-height:17.5px;color:#b3242f;font-weight:normal;text-align:right;">-10.50</div>
<div class="bdg br" style="left:1157.60px;top:708.75px;width:48.1px;height:19.3px;line-height:18.9px;font-size:12.2px">-1.17%</div>
<div class="t" style="right:171.10px;top:710.40px;font-size:14px;line-height:17.5px;color:#1f1d29;font-weight:normal;text-align:right;">56,789,012</div>
<div class="t" style="right:36.20px;top:710.40px;font-size:14px;line-height:17.5px;color:#1f1d29;font-weight:normal;text-align:right;">850B</div>
<div class="abs" style="left:223.5px;top:735.0px;width:1260.5px;height:1px;background:#e6e5ec"></div>
<div class="t" style="left:231.50px;top:744.40px;font-size:14px;line-height:17.5px;color:#1f1d29;font-weight:normal;letter-spacing:0.1px">NVDA</div>
<div class="t" style="left:366.60px;top:744.40px;font-size:14px;line-height:17.5px;color:#1f1d29;font-weight:normal;letter-spacing:0.3px">NVIDIA Corporation</div>
<div class="t" style="left:817.40px;top:744.40px;font-size:14px;line-height:17.5px;color:#1f1d29;font-weight:normal;">$450.30</div>
<div class="t" style="right:441.80px;top:744.40px;font-size:14px;line-height:17.5px;color:#17764a;font-weight:normal;text-align:right;">+12.45</div>
<div class="bdg bg" style="left:1150.20px;top:742.75px;width:55.5px;height:19.3px;line-height:18.9px;font-size:12.2px">+2.84%</div>
<div class="t" style="right:171.10px;top:744.40px;font-size:14px;line-height:17.5px;color:#1f1d29;font-weight:normal;text-align:right;">67,890,123</div>
<div class="t" style="right:36.20px;top:744.40px;font-size:14px;line-height:17.5px;color:#1f1d29;font-weight:normal;text-align:right;">1.1T</div>
<div class="abs" style="left:223.5px;top:769.0px;width:1260.5px;height:1px;background:#e6e5ec"></div>
<div class="t" style="left:231.50px;top:778.40px;font-size:14px;line-height:17.5px;color:#1f1d29;font-weight:normal;letter-spacing:0.1px">META</div>
<div class="t" style="left:366.60px;top:778.40px;font-size:14px;line-height:17.5px;color:#1f1d29;font-weight:normal;letter-spacing:0.3px">Meta Platforms Inc.</div>
<div class="t" style="left:817.40px;top:778.40px;font-size:14px;line-height:17.5px;color:#1f1d29;font-weight:normal;">$320.75</div>
<div class="t" style="right:441.80px;top:778.40px;font-size:14px;line-height:17.5px;color:#b3242f;font-weight:normal;text-align:right;">-3.25</div>
<div class="bdg br" style="left:1151.40px;top:776.75px;width:54.3px;height:19.3px;line-height:18.9px;font-size:12.2px">-1.00%</div>
<div class="t" style="right:171.10px;top:778.40px;font-size:14px;line-height:17.5px;color:#1f1d29;font-weight:normal;text-align:right;">8,901,234</div>
<div class="t" style="right:36.20px;top:778.40px;font-size:14px;line-height:17.5px;color:#1f1d29;font-weight:normal;text-align:right;">820B</div>
<div class="abs" style="left:223.5px;top:803.0px;width:1260.5px;height:1px;background:#e6e5ec"></div>
<div class="t" style="left:231.50px;top:812.40px;font-size:14px;line-height:17.5px;color:#1f1d29;font-weight:normal;letter-spacing:0.1px">NFLX</div>
<div class="t" style="left:366.60px;top:812.40px;font-size:14px;line-height:17.5px;color:#1f1d29;font-weight:normal;letter-spacing:0.3px">Netflix Inc.</div>
<div class="t" style="left:817.40px;top:812.40px;font-size:14px;line-height:17.5px;color:#1f1d29;font-weight:normal;">$480.20</div>
<div class="t" style="right:441.80px;top:812.40px;font-size:14px;line-height:17.5px;color:#17764a;font-weight:normal;text-align:right;">+9.90</div>
<div class="bdg bg" style="left:1152.30px;top:810.75px;width:53.4px;height:19.3px;line-height:18.9px;font-size:12.2px">+1.89%</div>
<div class="t" style="right:171.10px;top:812.40px;font-size:14px;line-height:17.5px;color:#1f1d29;font-weight:normal;text-align:right;">4,567,890</div>
<div class="t" style="right:36.20px;top:812.40px;font-size:14px;line-height:17.5px;color:#1f1d29;font-weight:normal;text-align:right;">210B</div>
<div class="abs" style="left:223.5px;top:837.0px;width:1260.5px;height:1px;background:#e6e5ec"></div>
<div class="t" style="left:231.50px;top:846.40px;font-size:14px;line-height:17.5px;color:#1f1d29;font-weight:normal;letter-spacing:0.1px">BABA</div>
<div class="t" style="left:366.60px;top:846.40px;font-size:14px;line-height:17.5px;color:#1f1d29;font-weight:normal;letter-spacing:0.3px">Alibaba Group Holding</div>
<div class="t" style="left:817.40px;top:846.40px;font-size:14px;line-height:17.5px;color:#1f1d29;font-weight:normal;">$120.45</div>
<div class="t" style="right:441.80px;top:846.40px;font-size:14px;line-height:17.5px;color:#b3242f;font-weight:normal;text-align:right;">-2.15</div>
<div class="bdg br" style="left:1155.20px;top:844.75px;width:50.5px;height:19.3px;line-height:18.9px;font-size:12.2px">-1.75%</div>
<div class="t" style="right:171.10px;top:846.40px;font-size:14px;line-height:17.5px;color:#1f1d29;font-weight:normal;text-align:right;">12,345,678</div>
<div class="t" style="right:36.20px;top:846.40px;font-size:14px;line-height:17.5px;color:#1f1d29;font-weight:normal;text-align:right;">320B</div>
<div class="abs" style="left:223.5px;top:871.0px;width:1260.5px;height:1px;background:#e6e5ec"></div>
<!--/TABLE-->
</body></html>
